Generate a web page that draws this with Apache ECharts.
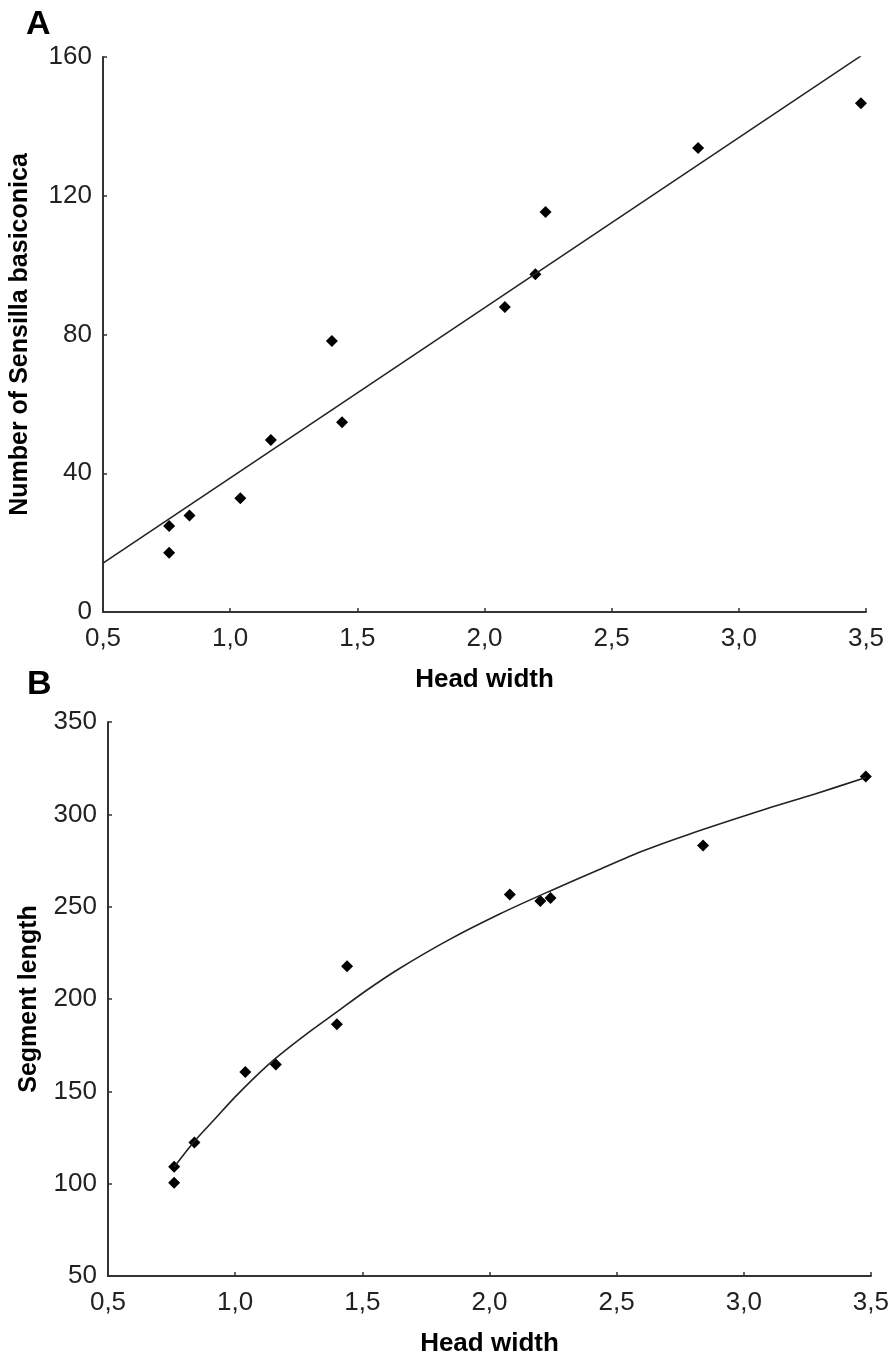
<!DOCTYPE html>
<html>
<head>
<meta charset="utf-8">
<script src="https://cdn.jsdelivr.net/npm/echarts@6/dist/echarts.min.js"></script>
<style>
  html, body { margin: 0; padding: 0; background: #fff; }
  #main { width: 892px; height: 1358px; }
</style>
</head>
<body>
<div id="main"></div>
<script>
// panel A: head width vs number of sensilla basiconica
const headA = [0.76, 0.76, 0.84, 1.04, 1.16, 1.40, 1.44, 2.08, 2.20, 2.24, 2.84, 3.48]
const sensilla = [24.8, 17.1, 27.8, 32.8, 49.6, 78.1, 54.7, 87.9, 97.4, 115.3, 133.8, 146.7]
const fitAx = [0.5, 3.48]
const fitAy = [14.1, 160.3]

// panel B: head width vs segment length
const headB = [0.76, 0.76, 0.84, 1.04, 1.16, 1.40, 1.44, 2.08, 2.20, 2.24, 2.84, 3.48]
const segment = [100.5, 109.2, 122.3, 160.5, 164.5, 186.3, 217.8, 256.6, 253.1, 254.7, 283.1, 320.5]
const fitBx = [0.76, 0.84, 0.92, 1.0, 1.08, 1.16, 1.28, 1.4, 1.52, 1.64, 1.84, 2.04, 2.23, 2.43, 2.6, 2.78, 3.09, 3.28, 3.48]
const fitBy = [109, 123, 135, 147, 158, 168, 181, 193, 205, 216, 232, 246, 258, 270, 280, 289, 303, 311, 320]

const xTicks = [0.5, 1.0, 1.5, 2.0, 2.5, 3.0, 3.5]

const font = "'Liberation Sans', Arial, sans-serif"
const zip = (a, b) => a.map((v, i) => [v, b[i]])

function xAxisOf(idx) {
    return {
        type: 'value', gridIndex: idx,
        min: xTicks[0], max: xTicks[xTicks.length - 1], interval: 0.5,
        name: 'Head width', nameLocation: 'middle', nameGap: 55,
        nameTextStyle: { fontFamily: font, fontSize: 26, fontWeight: 'bold', color: '#000' },
        axisLine: { lineStyle: { color: '#333', width: 2 } },
        axisTick: { inside: true, length: 4, lineStyle: { color: '#333', width: 1.5 } },
        axisLabel: {
            fontFamily: font, fontSize: 26, color: '#222', margin: 14,
            formatter: v => v.toFixed(1).replace('.', ',')
        },
        splitLine: { show: false }
    }
}

function yAxisOf(idx, min, max, step, name, gap) {
    return {
        type: 'value', gridIndex: idx, min: min, max: max, interval: step,
        name: name, nameLocation: 'middle', nameGap: gap,
        nameTextStyle: { fontFamily: font, fontSize: 25, fontWeight: 'bold', color: '#000' },
        axisLine: { show: true, lineStyle: { color: '#333', width: 2 } },
        axisTick: { show: true, inside: true, length: 4, lineStyle: { color: '#333', width: 1.5 } },
        axisLabel: { fontFamily: font, fontSize: 26, color: '#222', margin: 11 },
        splitLine: { show: false }
    }
}

const pointStyle = { symbol: 'diamond', symbolSize: [12, 12], itemStyle: { color: '#000', opacity: 1 } }
const fitStyle = { showSymbol: false, symbol: 'none', lineStyle: { color: '#222', width: 1.6 } }

let myChart = echarts.init(document.getElementById('main'))
let option = {
    backgroundColor: '#fff',
    animation: false,
    title: [
        { text: 'A', left: 26, top: 8, padding: 0, textStyle: { fontFamily: font, fontSize: 34, fontWeight: 'bold', color: '#000' } },
        { text: 'B', left: 27, top: 668, padding: 0, textStyle: { fontFamily: font, fontSize: 34, fontWeight: 'bold', color: '#000' } }
    ],
    grid: [
        { left: 103, right: 26, top: 57, bottom: 746 },
        { left: 108, right: 18, top: 722, bottom: 80 }
    ],
    xAxis: [xAxisOf(0), xAxisOf(1)],
    yAxis: [
        yAxisOf(0, 0, 160, 40, 'Number of Sensilla basiconica', 70),
        yAxisOf(1, 50, 350, 50, 'Segment length', 66)
    ],
    series: [
        Object.assign({ type: 'line', xAxisIndex: 0, yAxisIndex: 0, data: zip(fitAx, fitAy) }, fitStyle),
        Object.assign({ type: 'scatter', xAxisIndex: 0, yAxisIndex: 0, data: zip(headA, sensilla) }, pointStyle),
        Object.assign({ type: 'line', xAxisIndex: 1, yAxisIndex: 1, smooth: 0.3, data: zip(fitBx, fitBy) }, fitStyle),
        Object.assign({ type: 'scatter', xAxisIndex: 1, yAxisIndex: 1, data: zip(headB, segment) }, pointStyle)
    ]
}

myChart.setOption(option)
</script>
</body>
</html>
